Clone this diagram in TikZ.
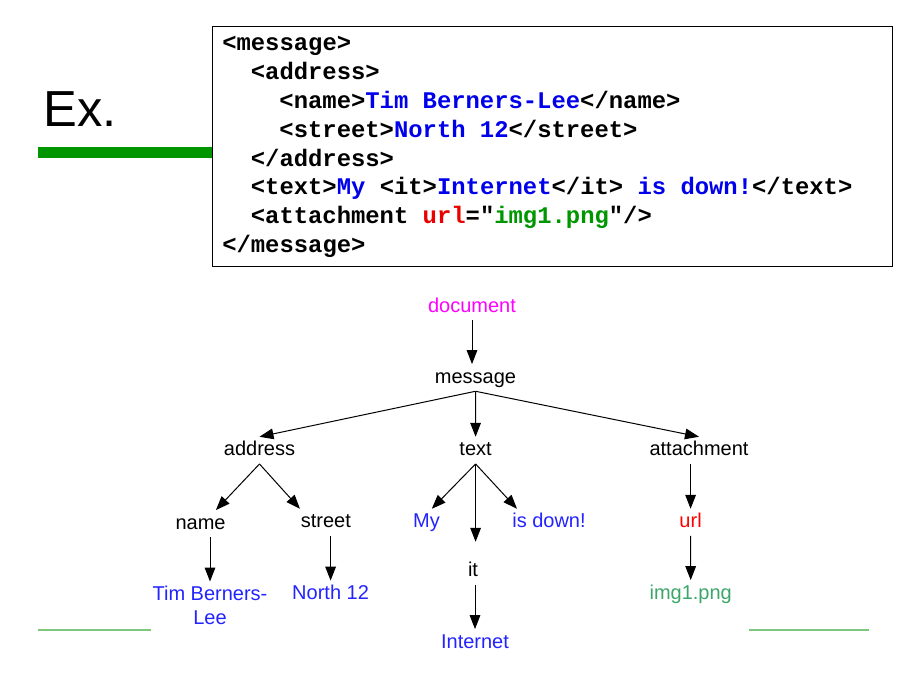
\documentclass[tikz,border=0pt]{standalone}
\usepackage{fontspec}
\setmainfont{Liberation Sans}
\setmonofont{Liberation Mono}
\usetikzlibrary{arrows.meta}
\definecolor{cblue}{RGB}{0,0,235}
\definecolor{cred}{RGB}{235,0,0}
\definecolor{cgreen}{RGB}{0,150,0}
\definecolor{tblue}{RGB}{35,35,255}
\definecolor{tmag}{RGB}{255,0,255}
\definecolor{tred}{RGB}{255,0,0}
\definecolor{tgreen}{RGB}{60,165,105}
\definecolor{barg}{RGB}{0,150,0}
\definecolor{lineg}{RGB}{125,200,125}
\frenchspacing
\begin{document}
\begin{tikzpicture}[x=0.75pt,y=-0.75pt,
  codeline/.style={anchor=base west,inner sep=0pt,font=\ttfamily\bfseries\fontsize{17.9}{20}\selectfont},
  lbl/.style={anchor=base,inner xsep=2pt,inner ysep=3pt,text height=11pt,text depth=3pt,font=\fontsize{15}{18}\selectfont},
  arr/.style={-{Triangle[length=10.5pt,width=8pt]},line width=0.75pt}]
\useasboundingbox (0,0) rectangle (914,681);
% title and bar
\node[anchor=base west,inner sep=0pt,font=\fontsize{38}{40}\selectfont] (ex) at (43,127) {Ex.};
\fill[barg] (38,147) rectangle (212,158);
% code box
\draw[line width=0.75pt] (212,27) rectangle (892,266);
\node[codeline] (c1) at (222,51) {<message>};
\node[codeline] (c2) at (250.6,79.8) {<address>};
\node[codeline] (c3) at (279.2,108.6) {<name>\textcolor{cblue}{Tim Berners-Lee}</name>};
\node[codeline] (c4) at (279.2,137.4) {<street>\textcolor{cblue}{North 12}</street>};
\node[codeline] (c5) at (250.6,166.2) {</address>};
\node[codeline] (c6) at (250.6,195) {<text>\textcolor{cblue}{My} <it>\textcolor{cblue}{Internet}</it> \textcolor{cblue}{is down!}</text>};
\node[codeline] (c7) at (250.6,223.8) {<attachment \textcolor{cred}{url}="\textcolor{cgreen}{img1.png}"/>};
\node[codeline] (c8) at (222,252.6) {</message>};
% tree nodes
\node[lbl,text=tmag] (doc) at (472,312) {document};
\node[lbl] (msg) at (475.5,383) {message};
\node[lbl] (addr) at (259.5,455.7) {address};
\node[lbl] (txt) at (475.6,455.7) {text};
\node[lbl] (att) at (699,455.7) {attachment};
\node[lbl] (name) at (200.6,529) {name};
\node[lbl] (street) at (325.8,527.7) {street};
\node[lbl,text=tblue] (my) at (426.5,527.7) {My};
\node[lbl,text=tblue] (down) at (549,527.7) {is down!};
\node[lbl,text=tred] (url) at (690.6,527.7) {url};
\node[lbl] (it) at (473,576.7) {it};
\node[anchor=north,align=center,inner sep=3pt,text=tblue,font=\fontsize{15}{18}\selectfont] (tim) at (210,581.5) {Tim Berners-\\Lee};
\node[lbl,text=tblue] (n12) at (330.6,599.5) {North 12};
\node[lbl,text=tgreen] (img) at (690.7,599) {img1.png};
\node[lbl,text=tblue] (inet) at (475,648) {Internet};
% connectors
\draw[arr] (doc.south) -- (doc.south |- msg.north);
\draw[arr] (msg.south) -- (addr.north);
\draw[arr] (msg.south) -- (txt.north);
\draw[arr] (msg.south) -- (att.north);
\draw[arr] (addr.south) -- ([xshift=11.5pt]name.north);
\draw[arr] (addr.south) -- ([xshift=-19.4pt]street.north);
\draw[arr] (txt.south) -- ([xshift=4pt]my.north);
\draw[arr] (txt.south) -- ([yshift=12pt]txt.south |- it.north);
\draw[arr] (txt.south) -- ([xshift=-24pt]down.north);
\draw[arr] (url.north |- att.south) -- (url.north);
\draw[arr] (url.south) -- (img.north);
\draw[arr] (tim.north |- name.south) -- (tim.north);
\draw[arr] (n12.north |- street.south) -- (n12.north);
\draw[arr] (inet.north |- it.south) -- (inet.north);
% bottom lines
\draw[lineg,line width=1.5pt] (38,630) -- (151,630);
\draw[lineg,line width=1.5pt] (749,630) -- (869,630);
\end{tikzpicture}
\end{document}
